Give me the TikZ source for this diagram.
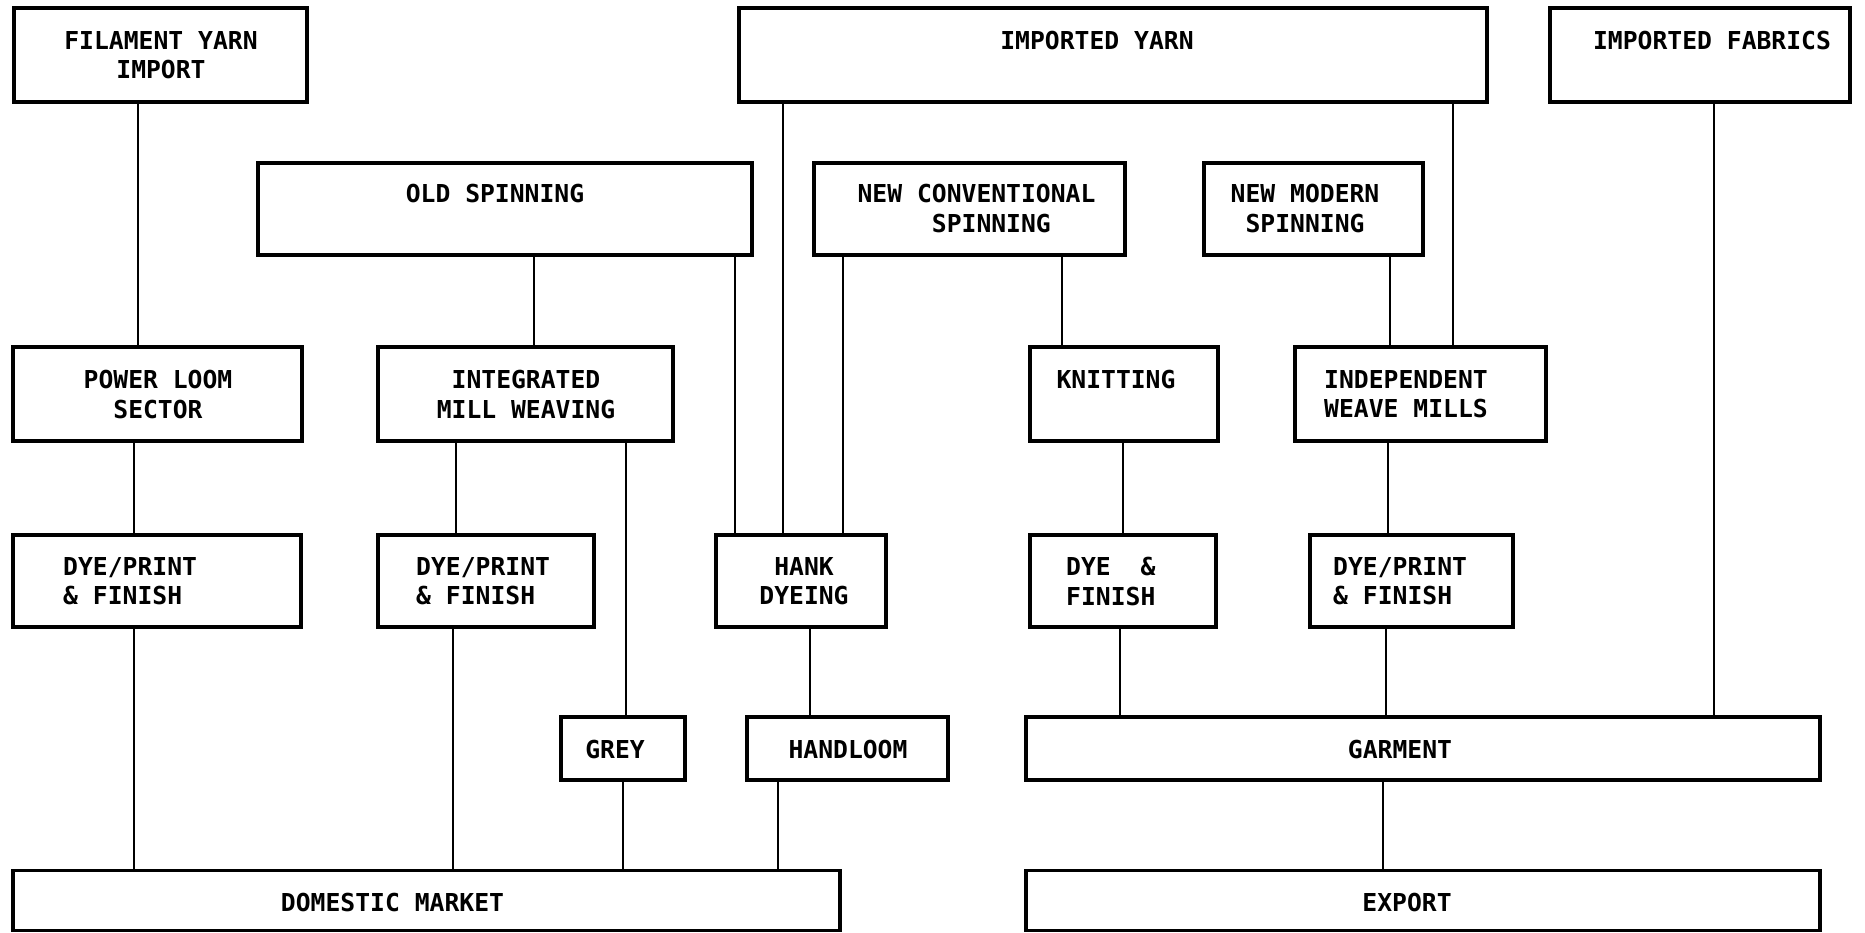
\documentclass[tikz,border=0pt]{standalone}
\usepackage{fontspec}
\newfontfamily\chartfont{DejaVu Sans Mono}
\usetikzlibrary{shapes}

\begin{document}
\begin{tikzpicture}[x=1pt, y=-1pt,
    box/.style={draw, line width=3.2pt, inner sep=0pt},
    txt/.style={anchor=north, inner sep=0pt, align=center,
                font=\chartfont\bfseries\fontsize{24.7}{29.7}\selectfont},
    ltxt/.style={txt, anchor=north west, align=left},
    every edge/.style={draw, line width=2.8pt}]
  \useasboundingbox (0,0) rectangle (1865,933);

  % top row
  \node[box, minimum width=293pt, minimum height=94pt] (FY) at (160.5,55) {};
  \node[box, minimum width=748pt, minimum height=94pt] (IY) at (1113,55) {};
  \node[box, minimum width=300pt, minimum height=94pt] (IF) at (1700,55) {};
  \node[txt] (FYt) at (161,31) {FILAMENT YARN\\IMPORT};
  \node[txt] (IYt) at (1097,31) {IMPORTED YARN};
  \node[txt] (IFt) at (1712,31) {IMPORTED FABRICS};

  % spinning
  \node[box, minimum width=494pt, minimum height=92pt] (OS) at (505,209) {};
  \node[box, minimum width=311pt, minimum height=92pt] (NC) at (969.5,209) {};
  \node[box, minimum width=219pt, minimum height=92pt] (NM) at (1313.5,209) {};
  \node[txt] (OSt) at (495,184) {OLD SPINNING};
  \node[txt] (NCt) at (976.5,184) {NEW CONVENTIONAL\\\phantom{NN}SPINNING};
  \node[txt] (NMt) at (1305,184) {NEW MODERN\\SPINNING};

  % weaving / knitting
  \node[box, minimum width=289pt, minimum height=94pt] (PL) at (157.5,394) {};
  \node[box, minimum width=295pt, minimum height=94pt] (IM) at (525.5,394) {};
  \node[box, minimum width=188pt, minimum height=94pt] (KN) at (1124,394) {};
  \node[box, minimum width=251pt, minimum height=94pt] (IW) at (1420.5,394) {};
  \node[txt] (PLt) at (158,370) {POWER LOOM\\SECTOR};
  \node[txt] (IMt) at (526,370) {INTEGRATED\\MILL WEAVING};
  \node[txt] (KNt) at (1116,370) {KNITTING};
  \node[txt] (IWt) at (1406,370) {INDEPENDENT\\WEAVE MILLS};

  % dyeing
  \node[box, minimum width=288pt, minimum height=92pt] (D1) at (157,581) {};
  \node[box, minimum width=216pt, minimum height=92pt] (D2) at (486,581) {};
  \node[box, minimum width=170pt, minimum height=92pt] (HD) at (801,581) {};
  \node[box, minimum width=186pt, minimum height=92pt] (DF) at (1123,581) {};
  \node[box, minimum width=203pt, minimum height=92pt] (D3) at (1411.5,581) {};
  \node[ltxt] (D1t) at (63,557) {DYE/PRINT\\\& FINISH};
  \node[ltxt] (D2t) at (416,557) {DYE/PRINT\\\& FINISH};
  \node[txt] (HDt) at (804,557) {HANK\\DYEING};
  \node[ltxt] (DFt) at (1066,557) {DYE\ \ \&\\FINISH};
  \node[ltxt] (D3t) at (1333,557) {DYE/PRINT\\\& FINISH};

  % grey, handloom, garment
  \node[box, minimum width=124pt, minimum height=63pt] (GR) at (623,748.5) {};
  \node[box, minimum width=201pt, minimum height=63pt] (HL) at (847.5,748.5) {};
  \node[box, minimum width=794pt, minimum height=63pt] (GA) at (1423,748.5) {};
  \node[txt] (GRt) at (615,740) {GREY};
  \node[txt] (HLt) at (848,740) {HANDLOOM};
  \node[txt] (GAt) at (1400,740) {GARMENT};

  % markets
  \node[box, minimum width=827pt, minimum height=60pt] (DM) at (426.5,900.5) {};
  \node[box, minimum width=794pt, minimum height=60pt] (EX) at (1423,900.5) {};
  \node[txt] (DMt) at (392.5,893) {DOMESTIC MARKET};
  \node[txt] (EXt) at (1407,893) {EXPORT};

  % links
  \path (FY.south -| 138,0) edge (PL.north -| 138,0);
  \path (PL.south -| 134,0) edge (D1.north -| 134,0);
  \path (D1.south -| 134,0) edge (DM.north -| 134,0);
  \path (OS.south -| 534,0) edge (IM.north -| 534,0);
  \path (OS.south -| 735,0) edge (HD.north -| 735,0);
  \path (IY.south -| 783,0) edge (HD.north -| 783,0);
  \path (NC.south -| 843,0) edge (HD.north -| 843,0);
  \path (NC.south -| 1062,0) edge (KN.north -| 1062,0);
  \path (NM.south -| 1390,0) edge (IW.north -| 1390,0);
  \path (IY.south -| 1453,0) edge (IW.north -| 1453,0);
  \path (IF.south -| 1714,0) edge (GA.north -| 1714,0);
  \path (IM.south -| 456,0) edge (D2.north -| 456,0);
  \path (IM.south -| 626,0) edge (GR.north -| 626,0);
  \path (D2.south -| 453,0) edge (DM.north -| 453,0);
  \path (GR.south -| 623,0) edge (DM.north -| 623,0);
  \path (HD.south -| 810,0) edge (HL.north -| 810,0);
  \path (HL.south -| 778,0) edge (DM.north -| 778,0);
  \path (KN.south -| 1123,0) edge (DF.north -| 1123,0);
  \path (DF.south -| 1120,0) edge (GA.north -| 1120,0);
  \path (IW.south -| 1388,0) edge (D3.north -| 1388,0);
  \path (D3.south -| 1386,0) edge (GA.north -| 1386,0);
  \path (GA.south -| 1383,0) edge (EX.north -| 1383,0);
\end{tikzpicture}
\end{document}
